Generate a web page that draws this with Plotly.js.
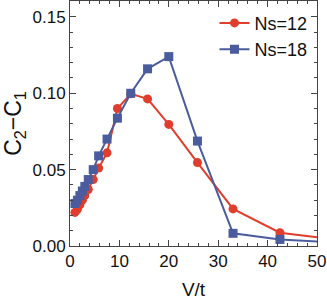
<!DOCTYPE html>
<html><head><meta charset="utf-8">
<script src="https://cdn.plot.ly/plotly-3.0.1.min.js"></script>
<style>html,body{margin:0;padding:0;background:#fff}#c{width:327px;height:302px}</style>
</head><body><div id="c"></div>
<script>
const vt = [1, 1.5, 2, 2.5, 3, 3.7, 4.7, 5.8, 7.5, 9.6, 12.3, 15.7, 20, 25.8, 33, 42.5, 55];
const ns12 = [0.022, 0.024, 0.027, 0.030, 0.033, 0.037, 0.0435, 0.051, 0.061, 0.090, 0.0996, 0.0963, 0.0796, 0.0546, 0.0243, 0.0087, 0.0037];
const ns18 = [0.0278, 0.030, 0.033, 0.036, 0.039, 0.0435, 0.050, 0.059, 0.070, 0.0837, 0.100, 0.116, 0.124, 0.0687, 0.0083, 0.0043, 0.0021];
const names = ['Ns=12', 'Ns=18'];
const red = '#e03e2c', blue = '#4a5c9e';
const traces = [
  {x: vt, y: ns12, name: names[0], mode: 'lines+markers', line: {color: red, width: 2},
   marker: {symbol: 'circle', size: 9, color: red}},
  {x: vt, y: ns18, name: names[1], mode: 'lines+markers', line: {color: blue, width: 2},
   marker: {symbol: 'square', size: 9, color: blue}}
];
const ax = {showgrid: false, zeroline: false, showline: true, linecolor: '#444', linewidth: 1,
  mirror: 'allticks', ticks: 'inside', ticklen: 6, tickcolor: '#444',
  tickfont: {family: 'Liberation Sans, Arial, sans-serif', size: 17, color: '#111'}};
const layout = {
  width: 327, height: 302, margin: {l: 70, r: 10, t: 1, b: 56},
  paper_bgcolor: '#fff', plot_bgcolor: '#fff',
  font: {family: 'Liberation Sans, Arial, sans-serif', color: '#111'},
  showlegend: true,
  legend: {x: 0.585, y: 0.985, xanchor: 'left', yanchor: 'top', bgcolor: 'rgba(0,0,0,0)',
    font: {size: 18}, tracegroupgap: 0},
  xaxis: Object.assign({}, ax, {range: [0, 50], dtick: 10, tick0: 0,
    minor: {dtick: 2, ticks: 'inside', ticklen: 3, tickcolor: '#444'},
    title: {text: 'V/t', font: {size: 19}, standoff: 12}}),
  yaxis: Object.assign({}, ax, {range: [0, 0.1604], dtick: 0.05, tick0: 0, tickformat: '.2f',
    minor: {dtick: 0.01, ticks: 'inside', ticklen: 3, tickcolor: '#444'},
    title: {text: 'C<sub>2</sub>\u2212C<sub>1</sub>', font: {size: 23}, standoff: 4}})
};
Plotly.newPlot('c', traces, layout, {staticPlot: true});
</script></body></html>
